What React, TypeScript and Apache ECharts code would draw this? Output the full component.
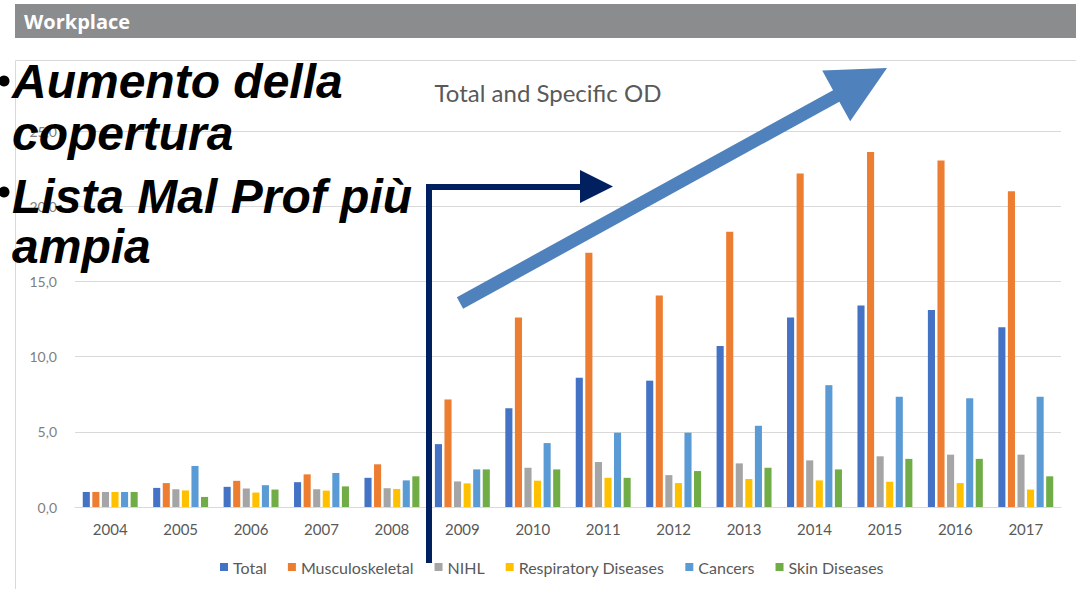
import React, { useEffect, useRef } from "react";
import * as echarts from "echarts";

const years = ["2004", "2005", "2006", "2007", "2008", "2009", "2010", "2011", "2012", "2013", "2014", "2015", "2016", "2017"];
const total = [1.0, 1.27, 1.34, 1.65, 1.94, 4.18, 6.56, 8.6, 8.4, 10.7, 12.6, 13.4, 13.1, 11.95];
const musculoskeletal = [1.0, 1.59, 1.74, 2.17, 2.84, 7.15, 12.6, 16.9, 14.07, 18.3, 22.17, 23.6, 23.04, 21.0];
const nihl = [1.0, 1.18, 1.23, 1.18, 1.25, 1.7, 2.61, 2.99, 2.12, 2.9, 3.1, 3.37, 3.48, 3.48];
const respiratory = [1.0, 1.1, 0.96, 1.09, 1.2, 1.57, 1.75, 1.94, 1.59, 1.86, 1.77, 1.68, 1.59, 1.16];
const cancers = [1.0, 2.73, 1.45, 2.26, 1.77, 2.5, 4.25, 4.94, 4.94, 5.4, 8.1, 7.33, 7.23, 7.33];
const skin = [1.0, 0.67, 1.16, 1.37, 2.04, 2.5, 2.5, 1.94, 2.39, 2.61, 2.5, 3.2, 3.2, 2.04];

const seriesNames = ["Total", "Musculoskeletal", "NIHL", "Respiratory Diseases", "Cancers", "Skin Diseases"];
const seriesData = [total, musculoskeletal, nihl, respiratory, cancers, skin];
const seriesColors = ["#4472C4", "#ED7D31", "#A5A5A5", "#FFC000", "#5B9BD5", "#70AD47"];

const headerText = "Workplace";
const chartTitle = "Total and Specific OD";
const bulletLines = ["Aumento della", "copertura", "Lista Mal Prof più", "ampia"];

function arrowPolygon(sx: number, sy: number, tx: number, ty: number, shaftHalf: number, headHalf: number, headLen: number) {
  const dx = tx - sx;
  const dy = ty - sy;
  const len = Math.sqrt(dx * dx + dy * dy);
  const ux = dx / len;
  const uy = dy / len;
  const nx = -uy;
  const ny = ux;
  const bx = tx - ux * headLen;
  const by = ty - uy * headLen;
  return [
    [sx + nx * shaftHalf, sy + ny * shaftHalf],
    [bx + nx * shaftHalf, by + ny * shaftHalf],
    [bx + nx * headHalf, by + ny * headHalf],
    [tx, ty],
    [bx - nx * headHalf, by - ny * headHalf],
    [bx - nx * shaftHalf, by - ny * shaftHalf],
    [sx - nx * shaftHalf, sy - ny * shaftHalf],
  ];
}

export default function App() {
  const ref = useRef<HTMLDivElement>(null);
  useEffect(() => {
    if (!ref.current) return;
    const chart = echarts.init(ref.current, null, { renderer: "svg" });
    const bulletFont = {
      fontFamily: "Liberation Sans, Arial, sans-serif",
      fontWeight: "bold",
      fontStyle: "italic",
      fontSize: 48,
      fill: "#000000",
    };
    const lineYs = [81.5, 133.5, 196.5, 246.5];
    chart.setOption({
      animation: false,
      backgroundColor: "#ffffff",
      title: {
        text: chartTitle,
        left: 548,
        top: 80,
        textAlign: "center",
        padding: 0,
        textStyle: { fontFamily: "Lato, sans-serif", fontSize: 24, fontWeight: "normal", color: "#595959" },
      },
      legend: {
        data: seriesNames,
        left: 220,
        top: 559,
        padding: 0,
        itemWidth: 8,
        itemHeight: 8,
        itemGap: 21,
        icon: "rect",
        textStyle: { fontFamily: "Lato, sans-serif", fontSize: 16, color: "#595959" },
      },
      grid: { left: 75, right: 15, top: 131, bottom: 82, containLabel: false },
      xAxis: {
        type: "category",
        data: years,
        axisLine: { show: true, lineStyle: { color: "#d9d9d9", width: 1 } },
        axisTick: { show: false },
        axisLabel: { color: "#595959", fontFamily: "Lato, sans-serif", fontSize: 15, margin: 14 },
      },
      yAxis: {
        type: "value",
        min: 0,
        max: 25,
        interval: 5,
        axisLine: { show: false },
        axisTick: { show: false },
        splitLine: { lineStyle: { color: "#d9d9d9", width: 1 } },
        axisLabel: {
          color: "#7f7f7f",
          fontFamily: "Lato, sans-serif",
          fontSize: 14,
          margin: 18,
          formatter: (v: number) => v.toFixed(1).replace(".", ","),
        },
      },
      series: seriesNames.map((name, i) => ({
        name,
        type: "bar",
        data: seriesData[i],
        itemStyle: { color: seriesColors[i] },
        barGap: "35%",
        barCategoryGap: "22%",
      })),
      graphic: [
        {
          type: "rect",
          z: 100,
          shape: { x: 15, y: 4, width: 1061, height: 34 },
          style: { fill: "#8a8c8e" },
        },
        {
          type: "text",
          z: 101,
          x: 24,
          y: 21,
          style: {
            text: headerText,
            fill: "#ffffff",
            fontFamily: "Open Sans, sans-serif",
            fontWeight: "bold",
            fontSize: 20,
            verticalAlign: "middle",
            textAlign: "left",
          },
        },
        {
          type: "polyline",
          z: 50,
          shape: { points: [[15.5, 589], [15.5, 60.5], [1076, 60.5]] },
          style: { stroke: "#d9d9d9", lineWidth: 1, fill: "none" },
        },
        {
          type: "polyline",
          z: 110,
          shape: { points: [[429, 563], [429, 187], [582, 187]] },
          style: { stroke: "#002060", lineWidth: 6, fill: "none", lineJoin: "miter" },
        },
        {
          type: "polygon",
          z: 110,
          shape: { points: [[580, 170], [613, 186.5], [580, 203]] },
          style: { fill: "#002060" },
        },
        {
          type: "polygon",
          z: 111,
          shape: { points: arrowPolygon(460, 303, 887, 68, 6.5, 29, 58) },
          style: { fill: "#4F81BD" },
        },
        { type: "circle", z: 120, shape: { cx: 4, cy: 81, r: 5.5 }, style: { fill: "#000000" } },
        { type: "circle", z: 120, shape: { cx: 4, cy: 192, r: 5.5 }, style: { fill: "#000000" } },
        ...bulletLines.map((t, i) => ({
          type: "text",
          z: 120,
          x: 12,
          y: lineYs[i],
          style: { ...bulletFont, text: t, verticalAlign: "middle", textAlign: "left" },
        })),
      ],
    });
    return () => chart.dispose();
  }, []);
  return <div ref={ref} style={{ position: "fixed", left: 0, top: 0, width: 1076, height: 589 }} />;
}
